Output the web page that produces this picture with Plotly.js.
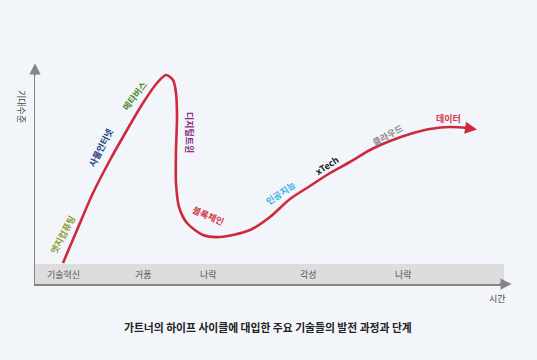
<!DOCTYPE html>
<html>
<head>
<meta charset="utf-8">
<script src="https://cdn.plot.ly/plotly-3.0.1.min.js"></script>
<style>html,body{margin:0;padding:0;background:#f2f6fa;}#chart{width:537px;height:360px;}</style>
</head>
<body>
<div id="chart"></div>
<script>
// Hype curve: time (x) vs expectation level (y)
const curveTime = [28, 42, 58, 75, 92, 108, 122, 131, 138, 141, 142, 141, 141, 144, 152, 168, 185, 215, 235, 255, 275, 295, 315, 335, 355, 375, 395, 415, 432, 439];
const curveExpect = [21, 54, 91, 124, 154, 181, 201, 209, 204, 191, 167, 134, 101, 77, 61, 49, 47, 54, 67, 85, 98, 111, 122, 134, 143, 150, 155, 157, 156, 155];

// Technologies placed along the curve
const techNames = ['엣지컴퓨팅', '사물인터넷', '메타버스', '디지털트윈', '블록체인', '인공지능', 'xTech', '클라우드', '데이터'];
const techTime = [27, 65, 99, 155, 173, 245, 292, 352, 413];
const techExpect = [49, 136, 188, 152, 69, 91, 119, 149, 166];

// Phases on the time band
const phaseLabels = ['기술혁신', '거품', '나락', '각성', '나락'];
const phaseTime = [28, 108, 173, 273, 368];

const titleText = '가트너의 하이프 사이클에 대입한 주요 기술들의 발전 과정과 단계';
const yLabel = '기대수준';
const xLabel = '시간';

// styles
const techColors = ['#8c9a2e', '#23467e', '#4f8a35', '#8a2d7e', '#d3364a', '#3ab0e0', '#222222', '#8a8a8a', '#d3364a'];
const techAngles = [-62, -63, -53, 90, 23, -34, -33, -29, 0];
const curveColor = '#cf2a3c';
const axisColor = '#858585';
const font = 'Noto Sans CJK KR, Noto Sans, sans-serif';

const traces = [
  {
    x: curveTime, y: curveExpect, mode: 'lines', type: 'scatter',
    line: {color: curveColor, width: 2.6, shape: 'spline', smoothing: 0.8},
    hoverinfo: 'skip', cliponaxis: false
  }
];

const annotations = [];
techNames.forEach((n, i) => {
  annotations.push({
    x: techTime[i], y: techExpect[i], xref: 'x', yref: 'y', text: '<b>' + n + '</b>',
    showarrow: false, textangle: techAngles[i], xanchor: 'center', yanchor: 'middle',
    font: {family: font, size: 9, color: techColors[i]}
  });
});
phaseLabels.forEach((p, i) => {
  annotations.push({
    x: phaseTime[i], y: 10, xref: 'x', yref: 'y', text: p, showarrow: false,
    xanchor: 'center', yanchor: 'middle',
    font: {family: font, size: 9, color: '#555555'}
  });
});
const nEnd = curveTime.length - 1;
annotations.push({
  x: curveTime[nEnd] + 3, y: curveExpect[nEnd] - 0.5, xref: 'x', yref: 'y',
  ax: curveTime[nEnd - 1], ay: curveExpect[nEnd - 1], axref: 'x', ayref: 'y',
  text: '', showarrow: true, arrowhead: 2, arrowsize: 1, arrowwidth: 2.4, arrowcolor: curveColor
});
// axis arrowheads
annotations.push({
  x: 0, y: 1.022, xref: 'paper', yref: 'paper', ax: 0, ay: 14,
  text: '', showarrow: true, arrowhead: 2, arrowsize: 1.5, arrowwidth: 1.5, arrowcolor: axisColor
});
annotations.push({
  x: 1.01, y: 0, xref: 'paper', yref: 'paper', ax: -14, ay: 0,
  text: '', showarrow: true, arrowhead: 2, arrowsize: 1.5, arrowwidth: 1.5, arrowcolor: axisColor
});
annotations.push({
  x: -0.030, y: 0.82, xref: 'paper', yref: 'paper', text: yLabel, showarrow: false,
  textangle: 90, xanchor: 'center', yanchor: 'middle', font: {family: font, size: 9, color: '#444'}
});
annotations.push({
  x: 0.979, y: -0.065, xref: 'paper', yref: 'paper', text: xLabel, showarrow: false,
  xanchor: 'center', yanchor: 'middle', font: {family: font, size: 9, color: '#444'}
});
annotations.push({
  x: 0.494, y: -0.199, xref: 'paper', yref: 'paper', text: '<b>' + titleText + '</b>', showarrow: false,
  xanchor: 'center', yanchor: 'middle', font: {family: font, size: 10.8, color: '#222'}
});

const layout = {
  width: 537, height: 360,
  margin: {l: 35, r: 30, t: 68, b: 76, pad: 0},
  paper_bgcolor: '#f2f6fa', plot_bgcolor: '#f2f6fa',
  showlegend: false,
  xaxis: {range: [0, 472], showgrid: false, zeroline: false, showticklabels: false, ticks: '',
          showline: true, linecolor: axisColor, linewidth: 1.5, fixedrange: true},
  yaxis: {range: [0, 216], showgrid: false, zeroline: false, showticklabels: false, ticks: '',
          showline: true, linecolor: axisColor, linewidth: 1.5, fixedrange: true},
  shapes: [
    {type: 'rect', xref: 'x', yref: 'y', x0: 0, x1: 469, y0: 0, y1: 20,
     fillcolor: '#dddddd', line: {width: 0}, layer: 'below'}
  ],
  annotations: annotations
};

Plotly.newPlot('chart', traces, layout, {displayModeBar: false, staticPlot: true});
</script>
</body>
</html>
